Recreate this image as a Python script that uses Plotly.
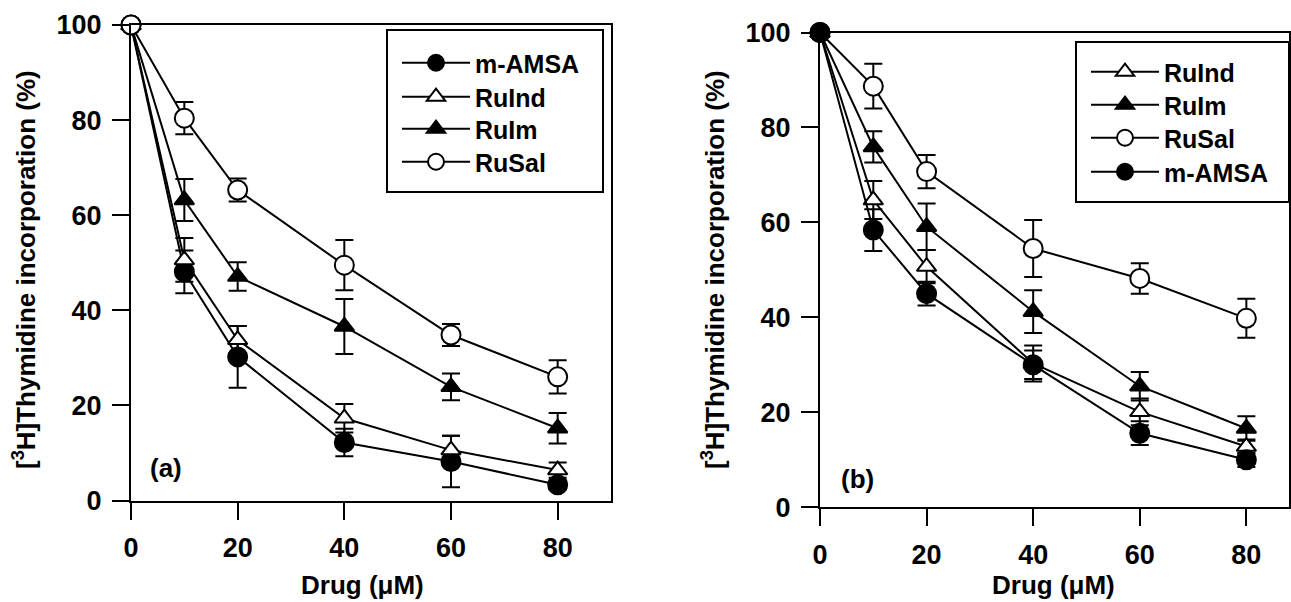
import plotly.graph_objects as go

# ---------------- data ----------------
dose = [0, 10, 20, 40, 60, 80]
x_ticks = [0, 20, 40, 60, 80]
y_ticks = [0, 20, 40, 60, 80, 100]

# panel (a)
a_amsa = [100, 48.1, 30.2, 12.2, 8.2, 3.3]
a_amsa_err = [0, 4.5, 6.5, 2.9, 5.4, 1.0]
a_ruind = [100, 50.6, 33.8, 17.3, 10.6, 6.4]
a_ruind_err = [0, 4.6, 2.9, 3.0, 3.0, 1.6]
a_ruim = [100, 63.2, 47.1, 36.6, 23.9, 15.2]
a_ruim_err = [0, 4.4, 3.0, 5.8, 2.8, 3.2]
a_rusal = [100, 80.4, 65.3, 49.5, 34.8, 26.0]
a_rusal_err = [0, 3.4, 2.4, 5.3, 2.3, 3.5]

# panel (b)
b_ruind = [100, 64.7, 50.7, 30.3, 20.1, 12.8]
b_ruind_err = [0, 4.0, 3.5, 3.8, 2.8, 1.5]
b_ruim = [100, 75.9, 59.1, 41.2, 25.5, 16.6]
b_ruim_err = [0, 3.3, 4.9, 4.5, 3.0, 2.6]
b_rusal = [100, 88.7, 70.7, 54.5, 48.2, 39.8]
b_rusal_err = [0, 4.7, 3.5, 6.0, 3.2, 4.1]
b_amsa = [100, 58.4, 45.0, 30.0, 15.6, 10.0]
b_amsa_err = [0, 4.4, 2.5, 3.0, 2.5, 1.5]

FONT = "Liberation Sans, Arial, Helvetica, sans-serif"
W, H = 1291, 602

styles = {
    "m-AMSA": dict(symbol="circle", color="black", size=19),
    "RuInd": dict(symbol="triangle-up", color="white", size=17),
    "RuIm": dict(symbol="triangle-up", color="black", size=17),
    "RuSal": dict(symbol="circle", color="white", size=19),
}

fig = go.Figure()

def add_panel(series, xaxis, yaxis, legends):
    # error bars first, so markers sit on top of them
    for name, yv, ev in series:
        fig.add_trace(go.Scatter(
            x=dose, y=yv, mode="markers", xaxis=xaxis, yaxis=yaxis,
            marker=dict(size=1, color="rgba(0,0,0,0)"),
            error_y=dict(type="data", array=ev, visible=True, color="black",
                         thickness=2, width=9),
            showlegend=False, hoverinfo="skip", cliponaxis=False,
        ))
    for (name, yv, ev), leg in zip(series, legends):
        st = styles[name]
        fig.add_trace(go.Scatter(
            x=dose, y=yv, mode="lines+markers", name=name,
            xaxis=xaxis, yaxis=yaxis, legend=leg,
            line=dict(color="black", width=2),
            marker=dict(symbol=st["symbol"], size=st["size"], color=st["color"],
                        line=dict(color="black", width=2)),
            cliponaxis=False,
        ))

add_panel([("m-AMSA", a_amsa, a_amsa_err),
           ("RuInd", a_ruind, a_ruind_err),
           ("RuIm", a_ruim, a_ruim_err),
           ("RuSal", a_rusal, a_rusal_err)], "x", "y",
          ["legend", "legend2", "legend3", "legend4"])
add_panel([("RuInd", b_ruind, b_ruind_err),
           ("RuIm", b_ruim, b_ruim_err),
           ("RuSal", b_rusal, b_rusal_err),
           ("m-AMSA", b_amsa, b_amsa_err)], "x2", "y2",
          ["legend5", "legend6", "legend7", "legend8"])


def xax(dom, rng, anchor):
    return dict(domain=dom, range=rng, tickvals=x_ticks, ticks="outside",
                ticklen=17, tickwidth=2, tickcolor="black", showline=True,
                linecolor="black", linewidth=2, mirror=True, showgrid=False,
                zeroline=False, ticklabelstandoff=5, automargin=False,
                anchor=anchor,
                tickfont=dict(family=FONT, size=27, color="black", weight="bold"))

def yax(dom, anchor):
    return dict(domain=dom, range=[0, 100], tickvals=y_ticks, ticks="outside",
                ticklen=17, tickwidth=2, tickcolor="black", showline=True,
                linecolor="black", linewidth=2, mirror=True, showgrid=False,
                zeroline=False, anchor=anchor, ticklabelstandoff=5,
                automargin=False,
                tickfont=dict(family=FONT, size=27, color="black", weight="bold"))

leg_common = dict(bgcolor="rgba(0,0,0,0)", borderwidth=0,
                  font=dict(family=FONT, size=25, color="black", weight="bold"),
                  itemwidth=68, tracegroupgap=0, xanchor="left", yanchor="middle")

# single-entry legends, placed at the reference entry rows
leg_a_y = [63, 97, 129, 162]
leg_b_y = [72, 105, 138, 172]
legends = {}
for i, yc in enumerate(leg_a_y):
    key = "legend" if i == 0 else f"legend{i + 1}"
    legends[key] = dict(x=397 / W, y=1 - yc / H, **leg_common)
for i, yc in enumerate(leg_b_y):
    legends[f"legend{i + 5}"] = dict(x=1086 / W, y=1 - yc / H, **leg_common)

fig.update_layout(
    width=W, height=H,
    margin=dict(l=0, r=0, t=0, b=0, autoexpand=False),
    paper_bgcolor="white", plot_bgcolor="white",
    font=dict(family=FONT, color="black", weight="bold"),
    xaxis=xax([131 / W, 611 / W], [0, 90], "y"),
    yaxis=yax([(H - 500.5) / H, (H - 25) / H], "x"),
    xaxis2=xax([820 / W, 1289 / W], [0, 88], "y2"),
    yaxis2=yax([(H - 507.3) / H, (H - 32.5) / H], "x2"),
    **legends,
)

# legend frames
def box(x0, y0, x1, y1):
    return dict(type="rect", xref="paper", yref="paper",
                x0=x0 / W, x1=x1 / W, y0=1 - y1 / H, y1=1 - y0 / H,
                line=dict(color="black", width=2), fillcolor="rgba(0,0,0,0)",
                layer="above")

fig.update_layout(shapes=[box(387, 30, 603, 192), box(1076, 42, 1289, 202)])

ytitle = "[<sup>3</sup>H]Thymidine incorporation (%)"
tfont = dict(family=FONT, size=26, color="black", weight="bold")
ann = [
    dict(text=ytitle, x=25 / W, y=1 - 270 / H, xref="paper", yref="paper",
         textangle=-90, showarrow=False, font=tfont, xanchor="center", yanchor="middle"),
    dict(text=ytitle, x=714 / W, y=1 - 270 / H, xref="paper", yref="paper",
         textangle=-90, showarrow=False, font=tfont, xanchor="center", yanchor="middle"),
    dict(text="Drug (μM)", x=362 / W, y=0, xref="paper", yref="paper",
         showarrow=False, font=tfont, xanchor="center", yanchor="bottom"),
    dict(text="Drug (μM)", x=1053 / W, y=0, xref="paper", yref="paper",
         showarrow=False, font=tfont, xanchor="center", yanchor="bottom"),
    dict(text="(a)", x=6.6, y=6.8, xref="x", yref="y", showarrow=False,
         font=tfont, xanchor="center", yanchor="middle"),
    dict(text="(b)", x=7.0, y=6.0, xref="x2", yref="y2", showarrow=False,
         font=tfont, xanchor="center", yanchor="middle"),
]
fig.update_layout(annotations=ann)

fig.write_html("out.html", config={"displayModeBar": False},
               post_script="document.body.style.margin='0';document.body.style.padding='0';")
